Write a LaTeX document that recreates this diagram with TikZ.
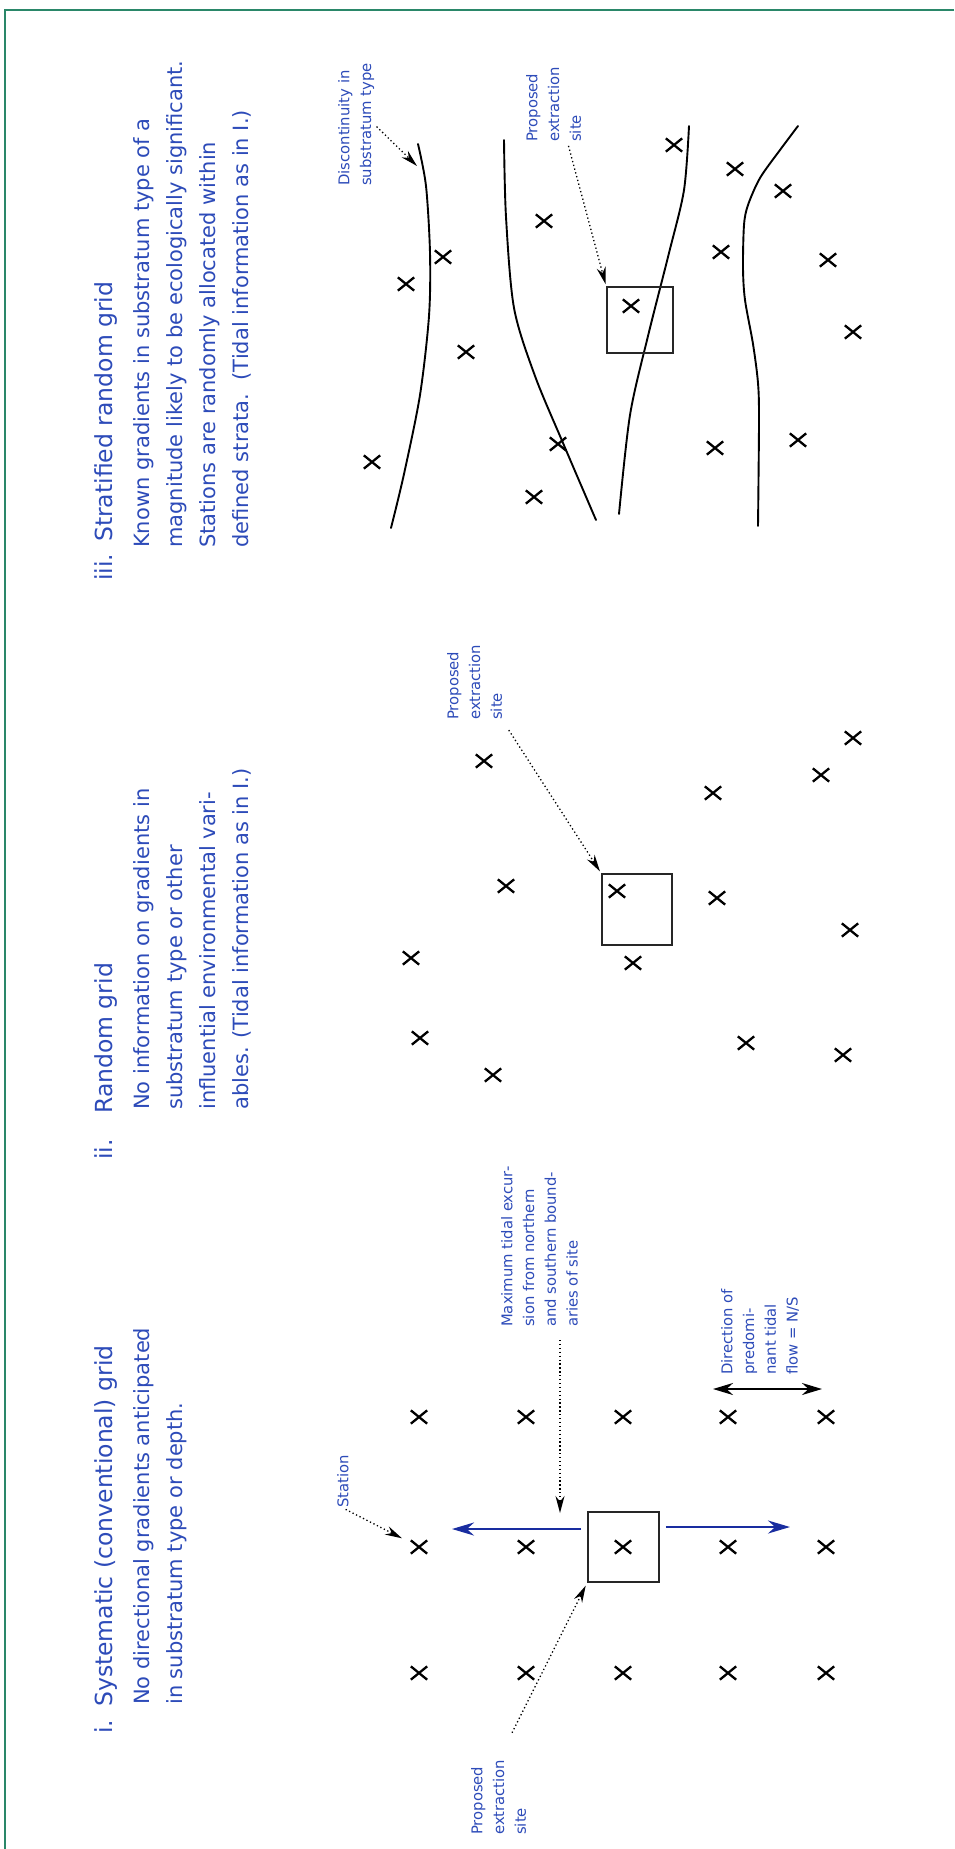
\documentclass[tikz,border=0pt]{standalone}
\usepackage{fontspec}
\setmainfont{DejaVu Sans}
\usepackage{tikz}
\usetikzlibrary{arrows.meta,shapes.misc,calc}
\definecolor{frameteal}{RGB}{42,135,105}
\definecolor{inkblue}{RGB}{45,75,185}
\definecolor{tideblue}{RGB}{25,45,160}

\begin{document}
\begin{tikzpicture}[
      x=1pt, y=-1pt,
      ttl/.style={rotate=90, anchor=base west, inner sep=0pt, text=inkblue,
                  font=\fontsize{23.5}{28}\selectfont},
      body/.style={rotate=90, anchor=north west, inner sep=0pt, align=left,
                   text=inkblue, font=\fontsize{21}{33}\selectfont},
      lbl/.style={rotate=90, anchor=north west, inner sep=0pt, align=left,
                  text=inkblue, font=\fontsize{14.8}{21.7}\selectfont},
      stn/.style={cross out, draw=black, line width=2.3pt,
                  minimum width=14pt, minimum height=11pt, inner sep=0pt},
      site/.style={draw=black!85, line width=1.9pt, inner sep=0pt},
      pointer/.style={-{Stealth[length=17pt,width=9pt]}, line width=1.3pt,
                      dash pattern=on 1.3pt off 2.6pt},
      tidal/.style={-{Stealth[length=22pt,width=13pt]}, draw=tideblue, line width=2.4pt},
      flow/.style={{Stealth[length=20pt,width=12pt]}-{Stealth[length=20pt,width=12pt]},
                   line width=2.2pt},
      stratum/.style={line width=1.9pt, line cap=round}
  ]
  \useasboundingbox[fill=white] (0,0) rectangle (954,1849);
  % frame
  \draw[frameteal, line width=2pt] (954,10) -- (5,10) -- (5,1849);

  % i. systematic grid
  \node[ttl] (numi) at (112,1734) {i.};
  \node[ttl] (ttli) at (112,1707) {Systematic (conventional) grid};
  \node[body] (bodyi) at (133,1705) {No directional gradients anticipated\\
                                     in substratum type or depth.};
  \foreach \c/\x in {1/419,2/526,3/623,4/728,5/826}
    \foreach \r/\y in {1/1417,2/1547,3/1673}
      \node[stn] (gi-\c-\r) at (\x,\y) {};
  \node[site, minimum width=71pt, minimum height=70pt] (sitei) at (623.5,1547) {};
  \coordinate (excN) at (452,1529);
  \coordinate (excS) at (790,1527);
  \draw[tidal, shorten <=6pt] (sitei.west |- excN) -- (excN);
  \draw[tidal, shorten <=6pt] (sitei.east |- excS) -- (excS);
  \node[lbl] (stationi) at (337,1508) {Station};
  \draw[pointer, shorten <=3pt, shorten >=10pt] (stationi.west) -- (gi-1-2);
  \node[lbl] (propi) at (471,1835) {Proposed\\extraction\\site};
  \draw[pointer, shorten <=30pt, shorten >=3pt] (propi.east) -- (sitei.south west);
  \node[lbl] (maxexc) at (501,1327) {Maximum tidal excur-\\sion from northern\\
                                    and southern bound-\\aries of site};
  \coordinate (excTip) at (560,1513);
  \draw[pointer, shorten <=13pt] (maxexc.west -| excTip) -- (excTip);
  \node[lbl] (flowlbl) at (721,1375) {Direction of\\predomi-\\nant tidal\\flow = N/S};
  \coordinate (flowN) at (713,1389);
  \coordinate (flowS) at (822,1389);
  \draw[flow] (flowN) -- (flowS);

  % ii. random grid
  \node[ttl] (numii) at (112,1160) {ii.};
  \node[ttl] (ttlii) at (112,1114) {Random grid};
  \node[body] (bodyii) at (133,1110) {No information on gradients in\\
                                      substratum type or other\\
                                      influential environmental vari-\\
                                      ables. (Tidal information as in I.)};
  \foreach \x/\y [count=\k] in {484/761,853/738,821/775,713/793,506/886,617/891,
                                717/898,850/930,411/958,633/963,420/1038,
                                493/1075,746/1043,843/1055}
    \node[stn] (gii-\k) at (\x,\y) {};
  \node[site, minimum width=70pt, minimum height=71pt] (siteii) at (637,909.5) {};
  \node[lbl] (propii) at (447,720) {Proposed\\extraction\\site};
  \draw[pointer, shorten <=12pt, shorten >=2pt] (propii.south west) -- (siteii.north west);

  % iii. stratified random grid
  \node[ttl] (numiii) at (112,581) {iii.};
  \node[ttl] (ttliii) at (112,542) {Stratified random grid};
  \node[body] (bodyiii) at (133,548) {Known gradients in substratum type of a\\
                                      magnitude likely to be ecologically significant.\\
                                      Stations are randomly allocated within\\
                                      defined strata.\ \ (Tidal information as in I.)};
  \draw[stratum] plot[smooth] coordinates {(418,144) (426,186) (430,253) (429,316)
                                           (420,395) (404,474) (391,528)};
  \draw[stratum] plot[smooth] coordinates {(504,140) (506,217) (514,308) (535,376)
                                           (563,443) (596,520)};
  \draw[stratum] plot[smooth] coordinates {(689,126) (684,190) (669,253) (648,336)
                                           (630,415) (619,514)};
  \draw[stratum] plot[smooth] coordinates {(798,126) (780,150) (760,178) (748,205)
                                           (744,225) (743,268) (745,300) (753,344)
                                           (758,383) (759,420) (758,526)};
  \foreach \x/\y [count=\k] in {674/145,735/169,783/191,544/221,443/257,721/252,
                                828/260,406/284,631/306,466/352,853/332,558/444,
                                715/448,798/440,372/462,534/497}
    \node[stn] (giii-\k) at (\x,\y) {};
  \node[site, minimum size=66pt] (siteiii) at (640,320) {};
  \node[lbl] (disc) at (338,186) {Discontinuity in\\substratum type};
  \coordinate (discTip) at (417,166);
  \draw[pointer, shorten <=3pt] (disc.south) -- (discTip);
  \node[lbl] (propiii) at (526,142) {Proposed\\extraction\\site};
  \draw[pointer, shorten <=4pt, shorten >=2pt]
    ($(propiii.west)!0.5!(propiii.south west)$) -- (siteiii.north west);
\end{tikzpicture}
\end{document}
